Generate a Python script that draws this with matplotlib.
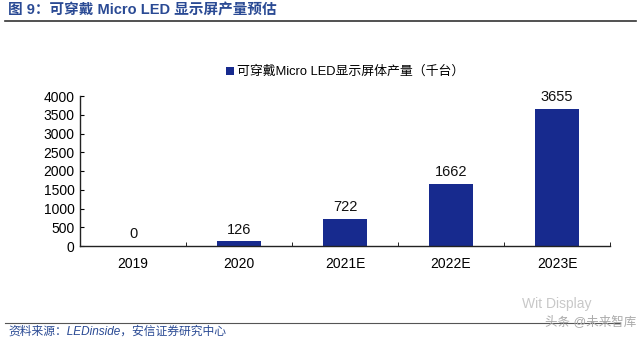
import matplotlib.pyplot as plt
import numpy as np

plt.rcParams['font.family'] = ['Liberation Sans', 'Noto Sans CJK SC', 'DejaVu Sans']

# 可穿戴 Micro LED 显示屏产量（千台）
years = ['2019', '2020', '2021E', '2022E', '2023E']
output = [0, 126, 722, 1662, 3655]
yticks = [0, 500, 1000, 1500, 2000, 2500, 3000, 3500, 4000]

bar_color = '#172a8e'
title_color = '#2a4a94'

fig = plt.figure(figsize=(6.4, 3.39), dpi=100)
ax = fig.add_axes([80 / 640, 1 - 246 / 339, 530 / 640, 150 / 339])

x = np.arange(len(years))
bars = ax.bar(x, output, width=0.42, color=bar_color, label='可穿戴Micro LED显示屏体产量（千台）')
for xi, v in zip(x, output):
    ax.text(xi, v + 120, str(v), ha='center', va='bottom', fontsize=10.5, color='#111111')

ax.set_xlim(-0.5, len(years) - 0.5)
ax.set_ylim(0, 4000)
ax.set_yticks(yticks)
ax.set_yticklabels([str(t) for t in yticks], fontsize=10)
ax.set_xticks(x)
ax.set_xticklabels(years, fontsize=10)
ax.tick_params(axis='x', length=0, pad=8)
ax.tick_params(axis='y', direction='in', length=3, pad=4)
# 类别之间的分隔刻度
ax.set_xticks(np.arange(-0.5, len(years)), minor=True)
ax.tick_params(axis='x', which='minor', direction='in', length=3)
for s in ['top', 'right']:
    ax.spines[s].set_visible(False)
for s in ['left', 'bottom']:
    ax.spines[s].set_color('#222222')
    ax.spines[s].set_linewidth(1.0)

leg = fig.legend(handles=[bars], loc='center left', bbox_to_anchor=(220 / 640, 1 - 72 / 339),
                 frameon=False, fontsize=9.3, handlelength=0.6, handleheight=0.6,
                 handletextpad=0.2, borderpad=0)

# 标题与分隔线
fig.text(8 / 640, 1 - 10 / 339, '图 9：可穿戴 Micro LED 显示屏产量预估', fontsize=10.5,
         fontweight='bold', color=title_color, va='center', ha='left')
fig.add_artist(plt.Line2D([5 / 640, 636 / 640], [1 - 21 / 339] * 2, color='#333333', lw=1.2))

# 底部来源
fig.add_artist(plt.Line2D([5 / 640, 620 / 640], [1 - 323 / 339] * 2, color='#555555', lw=0.8))
fig.text(8 / 640, 1 - 332 / 339, '资料来源：LEDinside，安信证券研究中心', fontsize=8.5,
         style='italic', color=title_color, va='center', ha='left')
fig.text(522 / 640, 1 - 304 / 339, 'Wit Display', fontsize=10, color='#c8c8c8', va='center', ha='left')
fig.text(545 / 640, 1 - 322 / 339, '头条 @未来智库', fontsize=9, color='#aaaaaa', va='center', ha='left')

fig.savefig('out.png', dpi=100)
